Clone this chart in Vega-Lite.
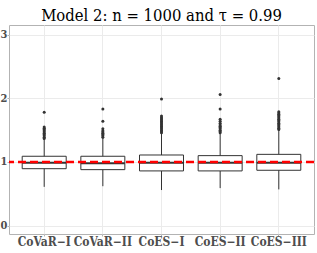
{
  "$schema": "https://vega.github.io/schema/vega-lite/v6.json",
  "autosize": "none",
  "width": 305,
  "height": 209,
  "padding": {"left": 9, "top": 25, "right": 3, "bottom": 19},
  "background": "white",
  "title": {"text": "Model 2: n = 1000 and τ = 0.99", "font": "DejaVu Serif Condensed", "fontSize": 16.5, "fontWeight": "normal", "color": "#000000", "anchor": "middle", "offset": 1},
  "view": {"stroke": "#B3B3B3", "strokeWidth": 1},
  "config": {
    "axis": {"labelFont": "DejaVu Serif Condensed", "labelFontWeight": "bold", "labelColor": "#4D4D4D", "domain": false, "tickColor": "#B3B3B3", "title": null}
  },
  "datasets": {
    "stats": [
      {"method": "CoVaR−I", "lower": 0.61, "q1": 0.895, "median": 0.99, "q3": 1.09, "upper": 1.36},
      {"method": "CoVaR−II", "lower": 0.62, "q1": 0.88, "median": 0.98, "q3": 1.09, "upper": 1.38},
      {"method": "CoES−I", "lower": 0.56, "q1": 0.86, "median": 0.99, "q3": 1.11, "upper": 1.45},
      {"method": "CoES−II", "lower": 0.59, "q1": 0.86, "median": 0.99, "q3": 1.10, "upper": 1.45},
      {"method": "CoES−III", "lower": 0.57, "q1": 0.87, "median": 0.99, "q3": 1.12, "upper": 1.50}
    ],
    "outliers": [
      {"method": "CoVaR−I", "value": 1.37}, {"method": "CoVaR−I", "value": 1.39}, {"method": "CoVaR−I", "value": 1.41}, {"method": "CoVaR−I", "value": 1.43}, {"method": "CoVaR−I", "value": 1.45}, {"method": "CoVaR−I", "value": 1.47}, {"method": "CoVaR−I", "value": 1.49}, {"method": "CoVaR−I", "value": 1.51}, {"method": "CoVaR−I", "value": 1.53}, {"method": "CoVaR−I", "value": 1.55}, {"method": "CoVaR−I", "value": 1.78},
      {"method": "CoVaR−II", "value": 1.39}, {"method": "CoVaR−II", "value": 1.41}, {"method": "CoVaR−II", "value": 1.43}, {"method": "CoVaR−II", "value": 1.45}, {"method": "CoVaR−II", "value": 1.47}, {"method": "CoVaR−II", "value": 1.49}, {"method": "CoVaR−II", "value": 1.52}, {"method": "CoVaR−II", "value": 1.64}, {"method": "CoVaR−II", "value": 1.83},
      {"method": "CoES−I", "value": 1.46}, {"method": "CoES−I", "value": 1.48}, {"method": "CoES−I", "value": 1.50}, {"method": "CoES−I", "value": 1.52}, {"method": "CoES−I", "value": 1.54}, {"method": "CoES−I", "value": 1.56}, {"method": "CoES−I", "value": 1.58}, {"method": "CoES−I", "value": 1.60}, {"method": "CoES−I", "value": 1.62}, {"method": "CoES−I", "value": 1.64}, {"method": "CoES−I", "value": 1.66}, {"method": "CoES−I", "value": 1.68}, {"method": "CoES−I", "value": 1.70}, {"method": "CoES−I", "value": 1.72}, {"method": "CoES−I", "value": 1.99},
      {"method": "CoES−II", "value": 1.46}, {"method": "CoES−II", "value": 1.48}, {"method": "CoES−II", "value": 1.50}, {"method": "CoES−II", "value": 1.52}, {"method": "CoES−II", "value": 1.54}, {"method": "CoES−II", "value": 1.56}, {"method": "CoES−II", "value": 1.58}, {"method": "CoES−II", "value": 1.61}, {"method": "CoES−II", "value": 1.64}, {"method": "CoES−II", "value": 1.67}, {"method": "CoES−II", "value": 1.83}, {"method": "CoES−II", "value": 2.06},
      {"method": "CoES−III", "value": 1.51}, {"method": "CoES−III", "value": 1.53}, {"method": "CoES−III", "value": 1.55}, {"method": "CoES−III", "value": 1.57}, {"method": "CoES−III", "value": 1.59}, {"method": "CoES−III", "value": 1.61}, {"method": "CoES−III", "value": 1.63}, {"method": "CoES−III", "value": 1.65}, {"method": "CoES−III", "value": 1.67}, {"method": "CoES−III", "value": 1.69}, {"method": "CoES−III", "value": 1.71}, {"method": "CoES−III", "value": 1.73}, {"method": "CoES−III", "value": 1.75}, {"method": "CoES−III", "value": 1.77}, {"method": "CoES−III", "value": 1.79}, {"method": "CoES−III", "value": 2.31}
    ],
    "reference": [{"level": 1}]
  },
  "encoding": {
    "x": {
      "field": "method", "type": "nominal",
      "sort": ["CoVaR−I", "CoVaR−II", "CoES−I", "CoES−II", "CoES−III"],
      "scale": {"paddingInner": 0.25, "paddingOuter": 0.225},
      "axis": {"labelAngle": 0, "labelFontSize": 12, "tickSize": 2, "labelPadding": 0, "grid": true, "gridColor": "#EBEBEB", "bandPosition": 0.5, "title": null}
    }
  },
  "layer": [
    {
      "data": {"name": "stats"},
      "mark": {"type": "rule", "color": "#333333", "strokeWidth": 1},
      "encoding": {
        "y": {
          "field": "lower", "type": "quantitative",
          "scale": {"domain": [-0.13, 3.15], "nice": false, "zero": false},
          "axis": {
            "values": [0, 0.5, 1, 1.5, 2, 2.5, 3],
            "labelExpr": "datum.value % 1 === 0 ? format(datum.value, 'd') : ''",
            "labelFontSize": 11, "labelPadding": 0, "tickSize": 2,
            "tickOpacity": {"condition": {"test": "datum.value % 1 === 0", "value": 1}, "value": 0},
            "grid": true,
            "gridColor": {"condition": {"test": "datum.value % 1 === 0", "value": "#EBEBEB"}, "value": "#F5F5F5"},
            "title": null
          }
        },
        "y2": {"field": "upper"}
      }
    },
    {
      "data": {"name": "stats"},
      "mark": {"type": "bar", "fill": "white", "stroke": "#333333", "strokeWidth": 1},
      "encoding": {
        "y": {"field": "q1", "type": "quantitative"},
        "y2": {"field": "q3"}
      }
    },
    {
      "data": {"name": "stats"},
      "mark": {"type": "tick", "color": "#333333", "size": 44, "thickness": 2, "opacity": 1},
      "encoding": {
        "y": {"field": "median", "type": "quantitative"}
      }
    },
    {
      "data": {"name": "outliers"},
      "mark": {"type": "point", "filled": true, "color": "#333333", "size": 9, "opacity": 1},
      "encoding": {
        "y": {"field": "value", "type": "quantitative"}
      }
    },
    {
      "data": {"name": "reference"},
      "mark": {"type": "rule", "color": "#FF0000", "strokeWidth": 2.5, "strokeDash": [8, 4]},
      "encoding": {
        "x": null,
        "y": {"field": "level", "type": "quantitative"}
      }
    }
  ]
}
